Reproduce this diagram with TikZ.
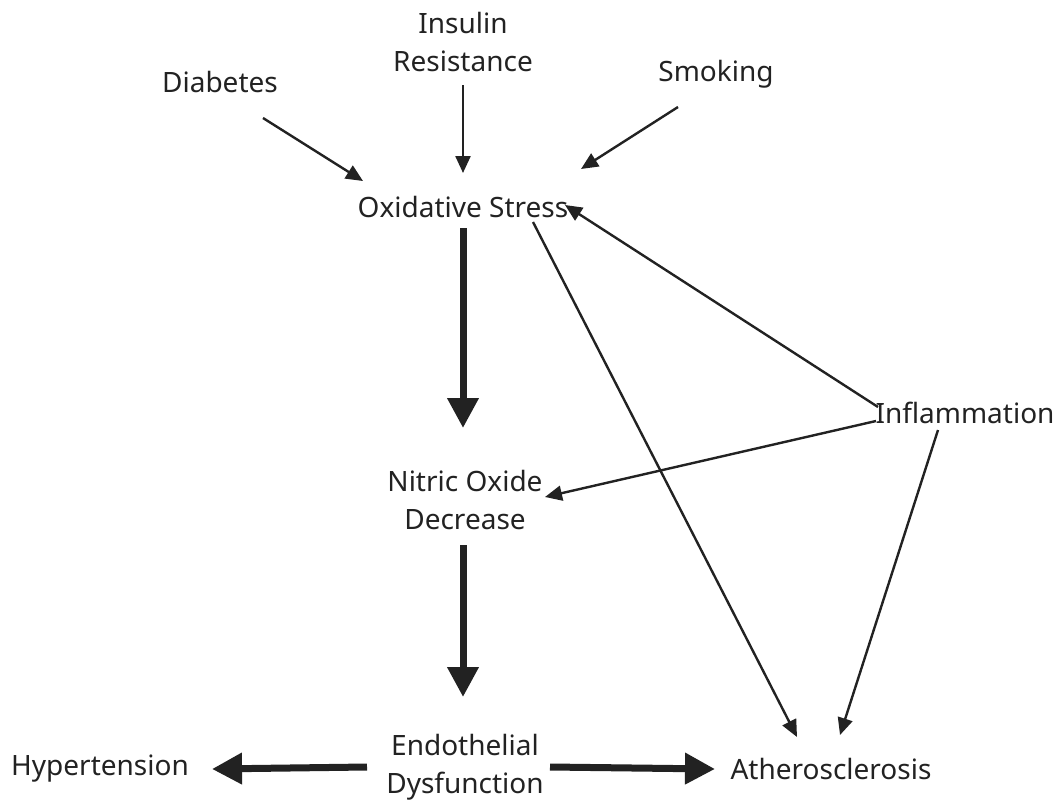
\documentclass[tikz,border=0pt]{standalone}
\usepackage{fontspec}
\setmainfont{Noto Sans}
\usetikzlibrary{arrows.meta}
\definecolor{ink}{HTML}{222222}
\tikzset{
  lbl/.style={inner sep=0pt, align=center, text=ink, font=\fontsize{28}{38.5}\selectfont},
  thin/.style={draw=ink, line width=2.4pt, -{Triangle[length=17pt,width=15pt]}},
  thick/.style={draw=ink, line width=7pt, -{Triangle[length=30pt,width=30pt]}}
}
\begin{document}
\begin{tikzpicture}[x=1pt,y=-1pt]
\useasboundingbox (0,0) rectangle (1060,803);
% factors
\node[lbl] (ins) at (463,42) {Insulin\\Resistance};
\node[lbl] (dia) at (220,82) {Diabetes};
\node[lbl] (smk) at (716,74) {Smoking};
% central chain
\node[lbl] (ox) at (463,207) {Oxidative Stress};
\node[lbl] (no) at (465,500) {Nitric Oxide\\Decrease};
\node[lbl] (ed) at (465,767) {Endothelial\\Dysfunction};
% side nodes
\node[lbl] (inf) at (965,413) {Inflammation};
\node[lbl] (hyp) at (100,769) {Hypertension};
\node[lbl] (ath) at (831,769) {Atherosclerosis};
% inputs to oxidative stress
\draw[thin] ([shift={(43,36)}]dia.center) -- ([shift={(-100,-26)}]ox.center);
\draw[thin] ([shift={(0,43)}]ins.center) -- ([shift={(0,-34)}]ox.center);
\draw[thin] ([shift={(-38,33)}]smk.center) -- ([shift={(118,-38)}]ox.center);
% main cascade
\draw[thick] ([shift={(0,21)}]ox.center) -- ([shift={(-2,-72)}]no.center);
\draw[thick] ([shift={(-2,45)}]no.center) -- ([shift={(-2,-70)}]ed.center);
\draw[thick] ([shift={(-98,0)}]ed.center) -- ([shift={(112,0)}]hyp.center);
\draw[thick] ([shift={(85,0)}]ed.center) -- ([shift={(-116,0)}]ath.center);
% inflammation links
\draw[thin] ([shift={(-87,-6)}]inf.center) -- ([shift={(102,-2)}]ox.center);
\draw[thin] ([shift={(-89,8)}]inf.center) -- ([shift={(80,-3)}]no.center);
\draw[thin] ([shift={(-27,17)}]inf.center) -- ([shift={(9,-34)}]ath.center);
% oxidative stress to atherosclerosis
\draw[thin] ([shift={(70,15)}]ox.center) -- ([shift={(-34,-32)}]ath.center);
\end{tikzpicture}
\end{document}
